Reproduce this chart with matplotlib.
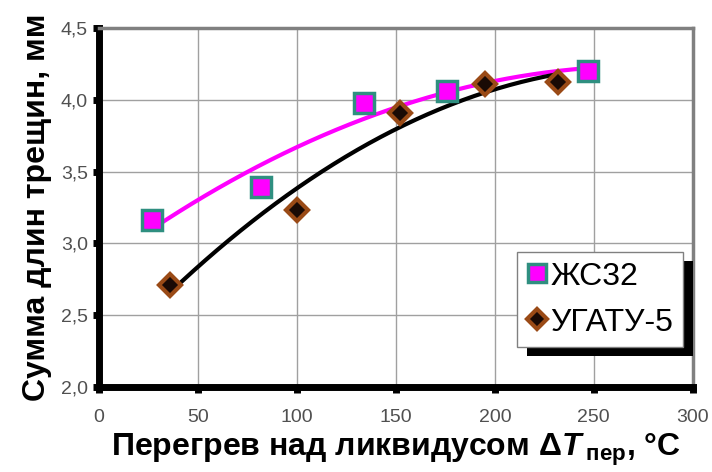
import matplotlib.pyplot as plt
from matplotlib.patches import Rectangle
import numpy as np

plt.rcParams['font.family'] = ['Liberation Sans', 'DejaVu Sans']
plt.rcParams['mathtext.fontset'] = 'custom'
plt.rcParams['mathtext.rm'] = 'Liberation Sans:bold'
plt.rcParams['mathtext.it'] = 'Liberation Sans:bold:italic'
plt.rcParams['mathtext.bf'] = 'Liberation Sans:bold'

# ЖС32
x_zs = [27, 82, 134, 176, 247]
y_zs = [3.16, 3.39, 3.98, 4.06, 4.20]
# УГАТУ-5
x_ug = [36, 100, 152, 195, 232]
y_ug = [2.71, 3.23, 3.91, 4.11, 4.12]

xticks = [0, 50, 100, 150, 200, 250, 300]
yticks = [2.0, 2.5, 3.0, 3.5, 4.0, 4.5]
ytick_labels = ['2,0', '2,5', '3,0', '3,5', '4,0', '4,5']

fig = plt.figure(figsize=(7.12, 4.72), dpi=100)
ax = fig.add_axes([0.139, 0.180, 0.834, 0.761])

# second order trendlines
for xs, ys, col in [(x_zs, y_zs, '#ff00ff'), (x_ug, y_ug, 'black')]:
    c = np.polyfit(xs, ys, 2)
    xx = np.linspace(min(xs), max(xs), 200)
    ax.plot(xx, np.polyval(c, xx), color=col, lw=3, zorder=3)

ax.plot(x_zs, y_zs, ls='none', marker='s', ms=15, mfc='#ff00ff',
        mec='#2f8f80', mew=2.5, zorder=4, label='ЖС32')
ax.plot(x_ug, y_ug, ls='none', marker='D', ms=11, mfc='#1a0a05',
        mec='#9a4a16', mew=3, zorder=4, label='УГАТУ-5')

ax.set_xlim(0, 300)
ax.set_ylim(2.0, 4.5)
ax.set_xticks(xticks)
ax.set_yticks(yticks)
ax.set_yticklabels(ytick_labels)
ax.grid(True, color='#a0a0a0', lw=1)
ax.set_axisbelow(True)

for s in ['left', 'bottom']:
    ax.spines[s].set_linewidth(5)
    ax.spines[s].set_color('black')
for s in ['top', 'right']:
    ax.spines[s].set_linewidth(2.5)
    ax.spines[s].set_color('#808080')

ax.tick_params(axis='both', length=4, width=5, color='black',
               labelsize=14, labelcolor='#505050')
ax.tick_params(axis='x', pad=12)
ax.tick_params(axis='y', pad=4)

ax.set_ylabel('Сумма длин трещин, мм', fontsize=23, fontweight='bold',
              labelpad=6)
ax.set_xlabel(r'Перегрев над ликвидусом $\Delta T\,_{\mathrm{пер}}$, °C',
              fontsize=23, fontweight='bold', labelpad=4)

leg = ax.legend(loc='lower right', bbox_to_anchor=(0.983, 0.111),
                fontsize=23, frameon=True, fancybox=False,
                handletextpad=0.05, handlelength=0.7, borderpad=0.3,
                labelspacing=0.5, borderaxespad=0, framealpha=1,
                markerscale=0.9)
leg.get_frame().set_edgecolor('#808080')
leg.get_frame().set_linewidth(1)
leg.set_zorder(6)

# solid black shadow behind the legend box
fig.canvas.draw()
bb = leg.get_window_extent().transformed(fig.transFigure.inverted())
dx, dy = 10 / 712, 9 / 472
ax.add_patch(Rectangle((bb.x0 + dx, bb.y0 - dy), bb.width, bb.height,
                       transform=fig.transFigure, facecolor='black',
                       edgecolor='none', zorder=5, clip_on=False))

fig.savefig('out.png', dpi=100)
